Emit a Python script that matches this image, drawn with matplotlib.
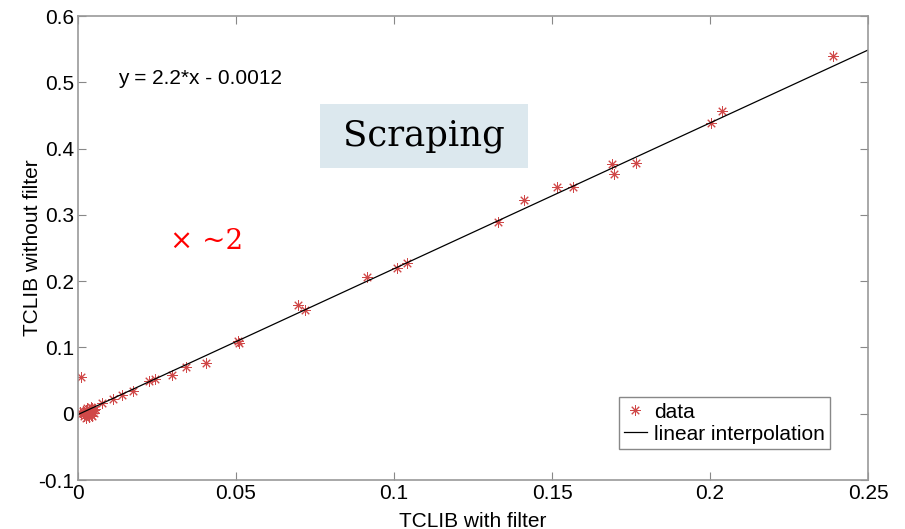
import numpy as np
import matplotlib
matplotlib.use("Agg")
import matplotlib.pyplot as plt
from matplotlib.patches import Rectangle

# points
x_data = [0.0010, 0.0005, 0.0010, 0.0015, 0.0020, 0.0025, 0.0030, 0.0035, 0.0040, 0.0045,
          0.0050, 0.0030, 0.0040, 0.0020, 0.0035, 0.0045, 0.0055, 0.0025, 0.0040, 0.0050,
          0.0075, 0.0110, 0.0138, 0.0173, 0.0226, 0.0244, 0.0296, 0.0342, 0.0405, 0.0510,
          0.0505, 0.0696, 0.0718, 0.0915, 0.1010, 0.1040, 0.1330, 0.1410, 0.1516, 0.1566,
          0.1690, 0.1696, 0.1766, 0.2002, 0.2037, 0.2390]
y_data = [0.0550, 0.0020, 0.0000, 0.0040, -0.0030, 0.0060, 0.0010, -0.0050, 0.0030, 0.0080,
          0.0050, 0.0080, -0.0020, 0.0020, 0.0000, -0.0040, 0.0070, -0.0060, 0.0100, 0.0010,
          0.0160, 0.0220, 0.0290, 0.0350, 0.0500, 0.0520, 0.0590, 0.0700, 0.0760, 0.1070,
          0.1100, 0.1640, 0.1570, 0.2070, 0.2200, 0.2280, 0.2900, 0.3230, 0.3420, 0.3420,
          0.3770, 0.3620, 0.3790, 0.4390, 0.4570, 0.5400]
slope = 2.2
intercept = -0.0012

plt.rcParams['font.family'] = ['Liberation Sans', 'DejaVu Sans']

fig = plt.figure(figsize=(9.05, 5.29), dpi=100)
ax = fig.add_axes([0.0862, 0.0926, 0.873, 0.877])

red = "#d04848"
ax.plot(x_data, y_data, linestyle="none", marker=(8, 2, 0), markersize=7.5,
        markeredgecolor=red, markeredgewidth=0.7, label="data")
xl = np.array([0.0, 0.25])
ax.plot(xl, slope * xl + intercept, color="black", linewidth=0.9, label="linear interpolation")

ax.set_xlim(0, 0.25)
ax.set_ylim(-0.1, 0.6)
ax.set_xticks([0, 0.05, 0.1, 0.15, 0.2, 0.25])
ax.set_xticklabels(["0", "0.05", "0.1", "0.15", "0.2", "0.25"])
ax.set_yticks(np.arange(-0.1, 0.61, 0.1))
ax.set_yticklabels(["-0.1", "0", "0.1", "0.2", "0.3", "0.4", "0.5", "0.6"])
ax.tick_params(direction="in", top=True, right=True, labelsize=15, length=6,
               color="#888888", pad=3)
for s in ax.spines.values():
    s.set_color("#999999")
    s.set_linewidth(1.2)

ax.set_xlabel("TCLIB with filter", fontsize=15, labelpad=6)
ax.set_ylabel("TCLIB without filter", fontsize=15, labelpad=-3)

ax.text(0.0128, 0.497, "y = 2.2*x - 0.0012", fontsize=15)
ax.add_patch(Rectangle((0.306, 0.672), 0.263, 0.138, transform=ax.transAxes,
                       facecolor="#dce8ee", edgecolor="none", zorder=1))
ax.text(0.4374, 0.741, "Scraping", fontsize=25.5, family="DejaVu Serif",
        ha="center", va="center", transform=ax.transAxes, zorder=2)
ax.text(0.029, 0.26, "\u00d7 ~2", fontsize=20, family="DejaVu Serif", color="red", va="center")

leg = ax.legend(loc="lower right", bbox_to_anchor=(0.952, 0.067), fontsize=15, fancybox=False,
                framealpha=1, handlelength=1.1, handletextpad=0.35, borderpad=0.25,
                labelspacing=0.15, borderaxespad=0)
leg.get_frame().set_edgecolor("#888888")

fig.savefig("out.png", dpi=100)
